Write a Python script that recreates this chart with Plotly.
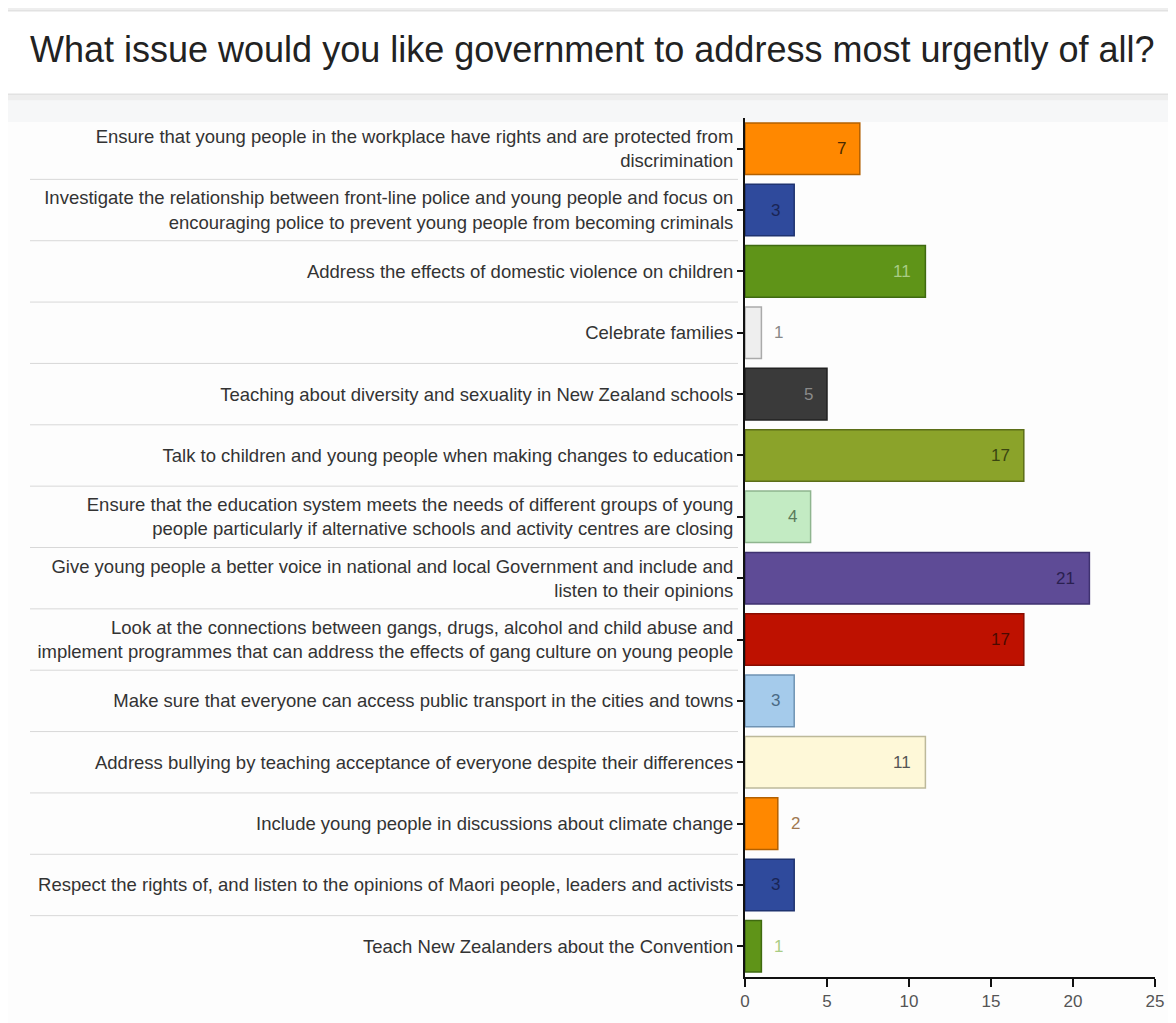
import plotly.graph_objects as go

categories = [
    "Ensure that young people in the workplace have rights and are protected from<br>discrimination",
    "Investigate the relationship between front-line police and young people and focus on<br>encouraging police to prevent young people from becoming criminals",
    "Address the effects of domestic violence on children",
    "Celebrate families",
    "Teaching about diversity and sexuality in New Zealand schools",
    "Talk to children and young people when making changes to education",
    "Ensure that the education system meets the needs of different groups of young<br>people particularly if alternative schools and activity centres are closing",
    "Give young people a better voice in national and local Government and include and<br>listen to their opinions",
    "Look at the connections between gangs, drugs, alcohol and child abuse and<br>implement programmes that can address the effects of gang culture on young people",
    "Make sure that everyone can access public transport in the cities and towns",
    "Address bullying by teaching acceptance of everyone despite their differences",
    "Include young people in discussions about climate change",
    "Respect the rights of, and listen to the opinions of Maori people, leaders and activists",
    "Teach New Zealanders about the Convention",
]
values = [7, 3, 11, 1, 5, 17, 4, 21, 17, 3, 11, 2, 3, 1]
x_ticks = [0, 5, 10, 15, 20, 25]

bar_colors = ["#FF8800", "#2F4A9C", "#5F9418", "#EEEEEE", "#3A3A3A", "#8BA32A", "#C3EBC3",
              "#5E4B96", "#BE1100", "#A5CBEB", "#FEF8D8", "#FF8800", "#2F4A9C", "#5F9418"]
line_colors = ["#B36000", "#1F3370", "#3F6A10", "#AAAAAA", "#222222", "#5C6E18", "#8FB58F",
               "#3F3270", "#8A0C00", "#6F93B3", "#BDB99A", "#B36000", "#1F3370", "#3F6A10"]
text_colors = ["#4A2A00", "#1A2555", "#A9CC84", "#888888", "#8A8A8A", "#3A4510", "#5A7A5A",
               "#2A2050", "#4A0A00", "#4A6A85", "#555555", "#A07850", "#1A2555", "#A9CC84"]

FONT = "Liberation Sans, Arial, sans-serif"
W, H = 1168, 1015  # page body has an 8px margin


def px_x(px):
    return (px - 745) / 410


def px_y(py):
    return (984 - py) / 866


fig = go.Figure()
fig.add_trace(go.Bar(
    x=values, y=categories, orientation="h",
    marker=dict(color=bar_colors, line=dict(color=line_colors, width=1.5)),
    width=0.84,
    hoverinfo="x+y",
))

annotations = []
for cat, v, tc in zip(categories, values, text_colors):
    inside = v >= 3
    annotations.append(dict(
        x=v, y=cat, xref="x", yref="y", text=str(v), showarrow=False,
        xanchor="right" if inside else "left", xshift=-12 if inside else 11,
        yanchor="middle", font=dict(family=FONT, size=17, color=tc)))

annotations.append(dict(text="What issue would you like government to address most urgently of all?",
                        xref="paper", yref="paper", x=px_x(28), y=px_y(49),
                        xanchor="left", yanchor="middle", showarrow=False,
                        font=dict(family=FONT, size=36, color="#222222")))

shapes = []
# background strip above & below the title box
shapes.append(dict(type="rect", xref="paper", yref="paper",
                   x0=px_x(0), x1=px_x(1176), y0=px_y(108), y1=px_y(0),
                   fillcolor="#EEEEEE", line=dict(width=0), layer="below"))
shapes.append(dict(type="rect", xref="paper", yref="paper",
                   x0=px_x(8), x1=px_x(1176), y0=px_y(135), y1=px_y(100),
                   fillcolor="#F6F7F8", line=dict(width=0), layer="below"))
shapes.append(dict(type="rect", xref="paper", yref="paper",
                   x0=px_x(8), x1=px_x(1176), y0=px_y(1023), y1=px_y(122),
                   fillcolor="#FDFDFD", line=dict(width=0), layer="below"))
# title box
shapes.append(dict(type="rect", xref="paper", yref="paper",
                   x0=px_x(2), x1=px_x(1176), y0=px_y(94), y1=px_y(10),
                   fillcolor="white", line=dict(color="#E2E2E2", width=1.5), layer="below"))
# separator lines between categories
for i in range(len(categories) - 1):
    shapes.append(dict(type="line", xref="paper", yref="y",
                       x0=px_x(30), x1=px_x(738), y0=i + 0.5, y1=i + 0.5,
                       line=dict(color="#D8D8D8", width=1), layer="below"))

fig.update_layout(
    width=W, height=H,
    margin=dict(l=737, r=21, t=110, b=39),
    paper_bgcolor="#FDFDFD", plot_bgcolor="rgba(0,0,0,0)",
    font=dict(family=FONT, size=18, color="#333333"),
    showlegend=False,
    shapes=shapes,
    annotations=annotations,
    xaxis=dict(range=[0, 25], tickvals=x_ticks, showgrid=False, zeroline=False,
               showline=True, linecolor="#111111", linewidth=2,
               ticks="outside", ticklen=8, tickcolor="#111111", tickwidth=1.5,
               tickfont=dict(family=FONT, size=17, color="#555555")),
    yaxis=dict(autorange="reversed", showgrid=False, zeroline=False,
               showline=True, linecolor="#111111", linewidth=2,
               ticks="outside", ticklen=6, tickcolor="#111111", tickwidth=2,
               tickfont=dict(family=FONT, size=18.5, color="#333333")),
)

fig.write_html("out.html")
